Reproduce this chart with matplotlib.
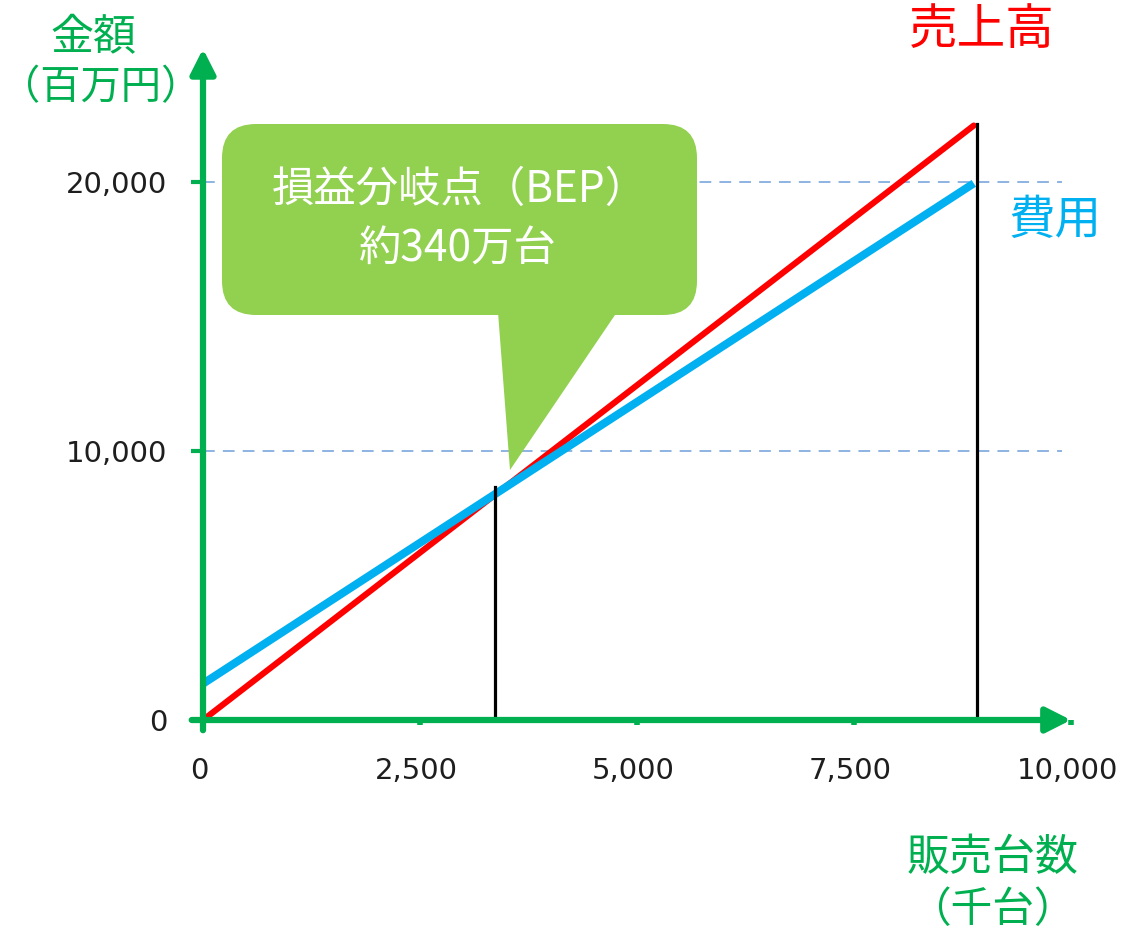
import matplotlib
matplotlib.use("Agg")
import matplotlib.pyplot as plt
from matplotlib.patches import FancyBboxPatch, Polygon
from matplotlib.ticker import FuncFormatter, FixedLocator
from matplotlib.transforms import Affine2D, ScaledTranslation

# ---- data ----
units = [0, 8880]            # 販売台数（千台）
sales = [0, 22100]           # 売上高（百万円）
cost = [1350, 19950]         # 費用（百万円）
bep_units = 3360
bep_amount = 8650
end_units = 8920
end_amount = 22150
x_ticks = [0, 2500, 5000, 7500, 10000]
y_ticks = [0, 10000, 20000]
grid_levels = [10000, 20000]
grid_end = 9900

GREEN = "#00B050"
RED = "#FF0000"
BLUE = "#00B0F0"
CALLOUT = "#92D050"
GRID = "#86AEE0"
JP = ["Noto Sans CJK JP", "DejaVu Sans"]

W, H = 1121, 931
fig = plt.figure(figsize=(W / 100, H / 100), dpi=100)
fig.patch.set_facecolor("white")

# axes placement in pixels: x0=203, 10000 -> 1071; y0=720 (from top), 25000 -> 48
ax_left, ax_right = 203, 1071
ax_bottom_top, ax_top_top = 720, 47.5
ax = fig.add_axes([ax_left / W, (H - ax_bottom_top) / H,
                   (ax_right - ax_left) / W, (ax_bottom_top - ax_top_top) / H])
ax.set_xlim(0, 10000)
ax.set_ylim(0, 25000)
for s in ax.spines.values():
    s.set_visible(False)
ax.patch.set_alpha(0)

fmt = FuncFormatter(lambda v, p: f"{int(v):,}")
ax.xaxis.set_major_locator(FixedLocator(x_ticks))
ax.yaxis.set_major_locator(FixedLocator(y_ticks))
ax.xaxis.set_major_formatter(fmt)
ax.yaxis.set_major_formatter(fmt)
ax.tick_params(axis="x", direction="out", length=3.5, width=4, color=GREEN,
               pad=23, labelsize=21, labelcolor="#1e1e1e")
ax.tick_params(axis="y", direction="out", length=8.5, width=3, color=GREEN,
               pad=17, labelsize=21, labelcolor="#1e1e1e")
shift = ScaledTranslation(-4 / 100, 0, fig.dpi_scale_trans)
for lab in ax.get_xticklabels():
    lab.set_family("DejaVu Sans")
    lab.set_transform(lab.get_transform() + shift)
for lab in ax.get_yticklabels():
    lab.set_family("DejaVu Sans")

# gridlines
for g in grid_levels:
    ax.plot([0, grid_end], [g, g], color=GRID, lw=1.3, dashes=(6.5, 4.5),
            zorder=1, clip_on=False)

# lines
ax.plot(units, sales, color=RED, lw=4.4, solid_capstyle="round", zorder=3, clip_on=False)
ax.plot(units, cost, color=BLUE, lw=5.8, solid_capstyle="butt", zorder=4, clip_on=False)

# vertical markers
ax.plot([bep_units, bep_units], [0, bep_amount], color="black", lw=2.3, zorder=5, clip_on=False)
ax.plot([end_units, end_units], [0, end_amount], color="black", lw=2.3, zorder=5, clip_on=False)

# axes with arrows
arrow = dict(arrowstyle="-|>,head_length=0.75,head_width=0.38", lw=4.5, color=GREEN,
             shrinkA=0, shrinkB=0, mutation_scale=20)
ax.annotate("", xy=(10000, 0), xytext=(-130, 0), arrowprops=arrow,
            annotation_clip=False, zorder=6)
ax.annotate("", xy=(0, 24950), xytext=(0, -380), arrowprops=arrow,
            annotation_clip=False, zorder=6)

# pixel transform (origin bottom-left of figure)
pix = Affine2D().scale(1 / 100) + fig.dpi_scale_trans


def P(x, y_top):
    return (x, H - y_top)


# callout box
box = FancyBboxPatch(P(222, 315), 697 - 222, 315 - 124,
                     boxstyle="round,pad=0,rounding_size=34",
                     transform=pix, facecolor=CALLOUT, edgecolor="none", zorder=7)
fig.add_artist(box)
tail = Polygon([P(498, 312), P(617, 312), P(510, 470)], closed=True,
               transform=pix, facecolor=CALLOUT, edgecolor="none", zorder=7)
fig.add_artist(tail)
fig.text(*P(460, 190), "損益分岐点（BEP）", transform=pix, ha="center", va="center",
         color="white", fontsize=30.5, family=JP, zorder=8)
fig.text(*P(458, 250), "約340万台", transform=pix, ha="center", va="center",
         color="white", fontsize=30.5, family=JP, zorder=8)

# labels
fig.text(*P(93, 38), "金額", transform=pix, ha="center", va="center",
         color=GREEN, fontsize=31, family=JP)
fig.text(*P(101, 88), "（百万円）", transform=pix, ha="center", va="center",
         color=GREEN, fontsize=29, family=JP)
fig.text(*P(982, 30), "売上高", transform=pix, ha="center", va="center",
         color=RED, fontsize=35, family=JP)
fig.text(*P(1055, 221), "費用", transform=pix, ha="center", va="center",
         color=BLUE, fontsize=33.5, family=JP)
fig.text(*P(993, 858), "販売台数", transform=pix, ha="center", va="center",
         color=GREEN, fontsize=31, family=JP)
fig.text(*P(992, 910), "（千台）", transform=pix, ha="center", va="center",
         color=GREEN, fontsize=30, family=JP)

fig.savefig("out.png", dpi=100, facecolor="white")
